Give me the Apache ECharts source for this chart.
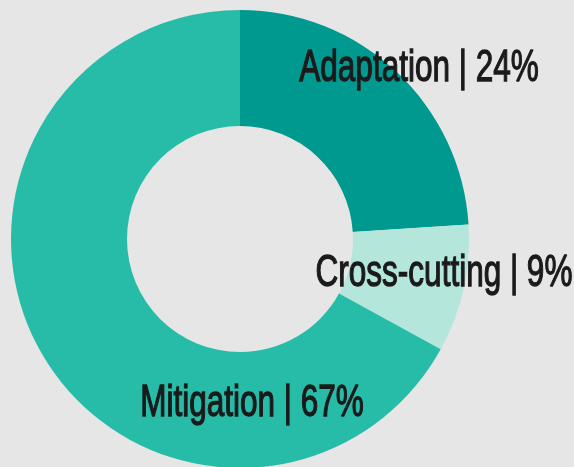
<!DOCTYPE html>
<html><head><meta charset="utf-8">
<script src="https://cdn.jsdelivr.net/npm/echarts@6/dist/echarts.min.js"></script>
<style>html,body{margin:0;padding:0;background:#e6e6e6}#c{width:574px;height:467px}</style>
</head><body><div id="c"></div>
<script>
const categories = ["Adaptation", "Cross-cutting", "Mitigation"];
const values = [24, 9, 67];
const colors = ["#009990", "#b4e6dc", "#26bca8"];
const labelPos = [[419, 69], [444, 274], [252, 404]];

const chart = echarts.init(document.getElementById('c'), null, {renderer: 'canvas'});
chart.setOption({
  backgroundColor: '#e6e6e6',
  animation: false,
  series: [{
    type: 'pie',
    center: [240, 239],
    radius: [113, 229],
    startAngle: 90,
    clockwise: true,
    silent: true,
    data: categories.map((c, i) => ({name: c, value: values[i], itemStyle: {color: colors[i]}})),
    label: {show: false},
    labelLine: {show: false}
  }],
  graphic: categories.map((c, i) => ({
    type: 'text',
    x: labelPos[i][0],
    y: labelPos[i][1],
    scaleX: 0.7,
    silent: true,
    z: 100,
    style: {
      text: c + ' | ' + values[i] + '%',
      font: '45px "Liberation Sans", Arial, sans-serif',
      fill: '#1a1a1a',
      stroke: '#1a1a1a',
      lineWidth: 1.3,
      align: 'center',
      verticalAlign: 'middle'
    }
  }))
});
</script></body></html>
